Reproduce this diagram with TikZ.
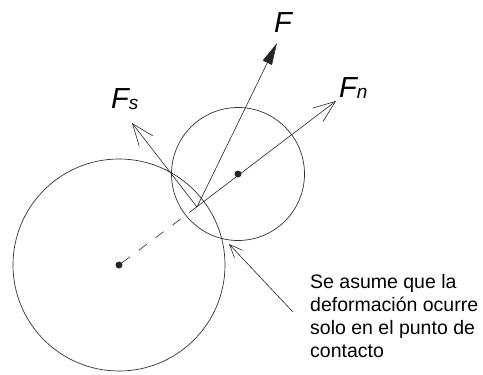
\documentclass[tikz,border=0pt]{standalone}
\usepackage{fontspec}
\setmainfont{Liberation Sans}
\usetikzlibrary{arrows.meta, positioning}
\tikzset{
  wheel/.style={draw=black!80, circle, line width=0.7pt, inner sep=0pt},
  dot/.style={fill=black!85, circle, inner sep=0pt, minimum size=7pt},
  force/.style={-{Straight Barb[length=22pt,width=17pt]}, line width=0.6pt, draw=black!85},
  resultant/.style={-{Triangle[length=22pt,width=10pt]}, line width=0.6pt, draw=black!85},
  pointer/.style={-{Straight Barb[length=13pt,width=11pt]}, line width=0.6pt, draw=black!85},
  lbl/.style={inner sep=0pt, anchor=base west, font=\fontsize{29}{29}\selectfont\itshape},
  note/.style={inner sep=0pt, anchor=base west, align=left, font=\fontsize{19.5}{22.7}\selectfont}
}
\newcommand{\sbs}[1]{{\fontsize{19}{19}\selectfont #1}}

\begin{document}
\begin{tikzpicture}[x=1pt, y=-1pt]
\useasboundingbox (0,0) rectangle (483,375);

% the two bodies
\node[wheel, minimum size=212pt] (big) at (119,265) {};
\node[wheel, minimum size=133pt] (small) at (238,174) {};
\node[dot] (cbig) at (big.center) {};
\node[dot] (csmall) at (small.center) {};

% contact and arrow tips
\coordinate (contact) at (190,212);
\coordinate (origin) at (197,207);
\coordinate (tipF) at (277,43);
\coordinate (tipFn) at (336,101);
\coordinate (tipFs) at (132,123);
\coordinate (tipP) at (229,244);
\coordinate (ptr) at (293,312);

\draw[dashed, dash pattern=on 10pt off 11pt, line width=0.6pt, black!85] (cbig) -- (contact);
\draw[force] (contact) -- (tipFn);
\draw[resultant] (origin) -- (tipF);
\draw[force] (origin) -- (tipFs);
\draw[pointer] (ptr) -- (tipP);

% labels
\node[lbl] (lF) at (274,32) {F};
\node[lbl] (lFn) at (339,97) {F\raisebox{-1pt}{\sbs{n}}};
\node[lbl] (lFs) at (111,108) {F\raisebox{-1pt}{\sbs{s}}};

\node[note] (txt) at (310,357) {Se asume que la\\deformación ocurre\\solo en el punto de\\contacto};

\end{tikzpicture}
\end{document}
